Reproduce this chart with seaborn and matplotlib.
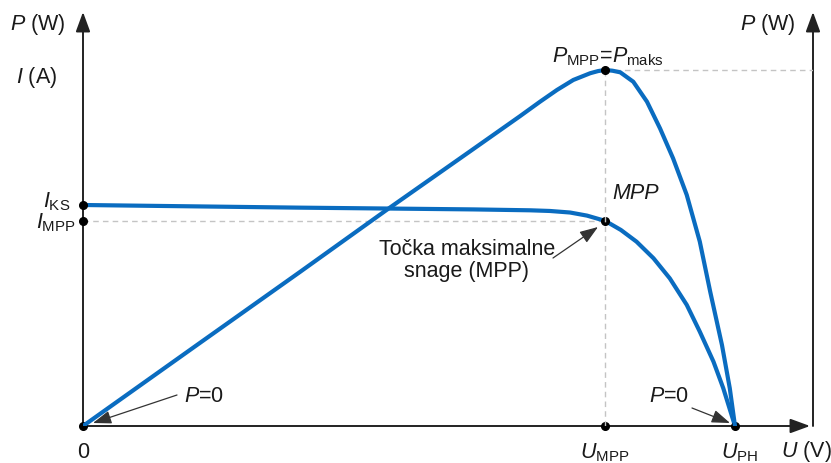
import matplotlib
matplotlib.use("Agg")
import matplotlib.pyplot as plt
import seaborn as sns
import numpy as np
import pandas as pd

# ---------------- data (normalised units) ----------------
# I-U curve: U / U_PH, I / I_KS
U_I = [0.0, 0.333, 0.468, 0.600, 0.686, 0.716, 0.747, 0.773, 0.801, 0.825, 0.849,
       0.875, 0.900, 0.926, 0.946, 0.967, 0.982, 1.0]
I_VALS = [1.0, 0.988, 0.984, 0.980, 0.976, 0.973, 0.966, 0.952, 0.928, 0.887, 0.834,
          0.759, 0.668, 0.548, 0.427, 0.291, 0.171, 0.0]

# P-U curve: U / U_PH, P / P_maks
U_P = [0.0, 0.179, 0.333, 0.468, 0.594, 0.670, 0.701, 0.727, 0.752, 0.778, 0.790, 0.801,
       0.812, 0.824, 0.844, 0.865, 0.885, 0.905, 0.926, 0.946, 0.962, 0.980, 0.992, 1.0]
P_VALS = [0.0, 0.233, 0.433, 0.610, 0.772, 0.870, 0.911, 0.944, 0.972, 0.991, 0.997, 1.0,
          0.998, 0.9935, 0.967, 0.911, 0.836, 0.752, 0.649, 0.518, 0.377, 0.2275, 0.106, 0.0]

U_MPP, U_PH = 0.801, 1.0
I_KS, I_MPP = 1.0, 0.928
P_MAX = 1.0

# ---------------- style ----------------
sns.set_theme(style="white")
plt.rcParams["font.family"] = ["Liberation Sans", "DejaVu Sans"]
plt.rcParams["mathtext.fontset"] = "custom"
plt.rcParams["mathtext.rm"] = "Liberation Sans"
plt.rcParams["mathtext.it"] = "Liberation Sans:italic"
plt.rcParams["mathtext.bf"] = "Liberation Sans:bold"

BLUE = "#0a6cc0"
AX = "#222222"
GRID = "#c4c4c4"
TXT = "#1a1a1a"
FS = 15.5

W, H = 831, 463
fig = plt.figure(figsize=(W / 100, H / 100), dpi=100)
x0, y0 = 83, 426          # pixel position of origin
xpx, ypx = 652, 221       # pixels per unit on U / I
ppx = 356                 # pixels per unit on P
top_px, right_px = 12, 813
ax = fig.add_axes([x0 / W, (H - y0) / H, (right_px - x0) / W, (y0 - top_px) / H])
XMAX = (right_px - x0) / xpx
ax.set_xlim(0, XMAX)
ax.set_ylim(0, (y0 - top_px) / ypx)
ax2 = ax.twinx()
ax2.set_ylim(0, (y0 - top_px) / ppx)
for a in (ax, ax2):
    for s in a.spines.values():
        s.set_visible(False)
    a.set_xticks([])
    a.set_yticks([])
    a.patch.set_visible(False)


def P(px, py):
    """pixel -> data coords of ax"""
    return (px - x0) / xpx, (y0 - py) / ypx


# guide lines
ax.plot([0, U_MPP], [I_MPP, I_MPP], color=GRID, lw=1, ls=(0, (4, 3)), zorder=1)
ax2.plot([U_MPP, U_MPP], [0, P_MAX], color=GRID, lw=1, ls=(0, (4, 3)), zorder=1)
ax2.plot([U_MPP, XMAX], [P_MAX, P_MAX], color=GRID, lw=1, ls=(0, (4, 3)), zorder=1)

# curves
dfI = pd.DataFrame({"U": U_I, "I": I_VALS})
dfP = pd.DataFrame({"U": U_P, "P": P_VALS})
sns.lineplot(data=dfI, x="U", y="I", ax=ax, color=BLUE, lw=3, zorder=3,
             solid_joinstyle="round", solid_capstyle="round")
sns.lineplot(data=dfP, x="U", y="P", ax=ax2, color=BLUE, lw=3, zorder=3,
             solid_joinstyle="round", solid_capstyle="round")
ax.set_xlabel(""); ax.set_ylabel(""); ax2.set_ylabel("")
ax.set_xticks([]); ax.set_yticks([]); ax2.set_yticks([])

# axes with arrows
head = "-|>,head_length=0.6,head_width=0.22"
ap = dict(arrowstyle=head, color=AX, lw=1.4, mutation_scale=20, shrinkA=0, shrinkB=0)
ax.annotate("", xy=P(x0, top_px), xytext=P(x0, y0), arrowprops=ap, annotation_clip=False)
ax.annotate("", xy=P(right_px, top_px), xytext=P(right_px, y0), arrowprops=ap, annotation_clip=False)
ax.annotate("", xy=P(810, y0), xytext=P(x0, y0), arrowprops=ap, annotation_clip=False)

# dots
ax.plot([0, 0, 0, U_MPP, U_MPP, U_PH], [0, I_KS, I_MPP, I_MPP, 0, 0], "o",
        color="black", ms=5.5, zorder=5, clip_on=False)
ax2.plot([U_MPP], [P_MAX], "o", color="black", ms=5.5, zorder=5, clip_on=False)


def T(px, py, s, **kw):
    kw.setdefault("ha", "center")
    kw.setdefault("va", "center")
    ax.text(*P(px, py), s, fontsize=FS, color=TXT, **kw)


T(38, 25, r"$\mathit{P}$ (W)")
T(37, 78, r"$\mathit{I}$ (A)")
T(768, 25, r"$\mathit{P}$ (W)")
T(70, 202, r"$\mathit{I}_{\mathrm{KS}}$", ha="right")
T(76, 223, r"$\mathit{I}_{\mathrm{MPP}}$", ha="right")
T(608, 57, r"$\mathit{P}_{\mathrm{MPP}}$=$\mathit{P}_{\mathrm{maks}}$")
T(612, 194, "MPP", ha="left", style="italic")
T(467, 255, "Točka maksimalne", va="baseline")
T(467, 277, "snage (MPP)", va="baseline")
T(204, 396, r"$\mathit{P}$=0")
T(669, 396, r"$\mathit{P}$=0")
T(83, 452, "0")
T(605, 453, r"$\mathit{U}_{\mathrm{MPP}}$")
T(740, 453, r"$\mathit{U}_{\mathrm{PH}}$")
T(806, 452, r"$\mathit{U}$ (V)")

# pointer arrows
pa = dict(arrowstyle="-|>,head_length=0.7,head_width=0.25", color="#333333", lw=0.9,
          mutation_scale=16, shrinkA=0, shrinkB=0)
ax.annotate("", xy=P(598, 227), xytext=P(553, 258), arrowprops=pa, annotation_clip=False)
ax.annotate("", xy=P(93, 423), xytext=P(177, 395), arrowprops=pa, annotation_clip=False)
ax.annotate("", xy=P(730, 423), xytext=P(692, 408), arrowprops=pa, annotation_clip=False)

fig.savefig("out.png", dpi=100, facecolor="white")
